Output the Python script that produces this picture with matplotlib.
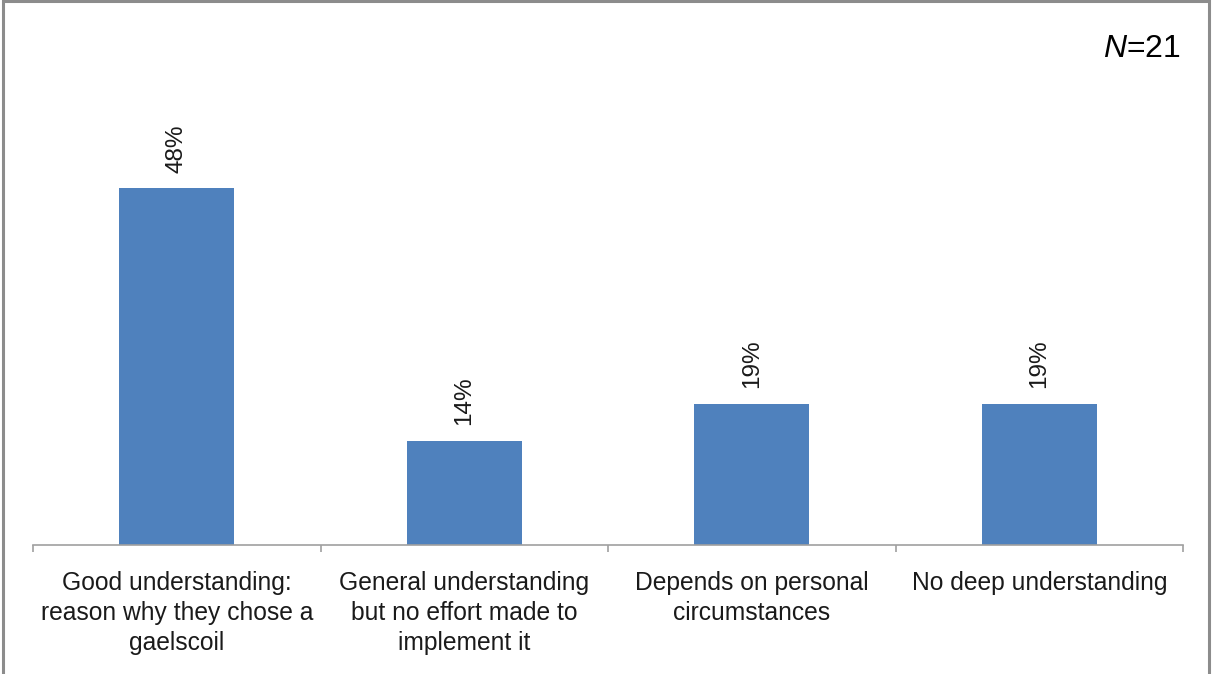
import matplotlib.pyplot as plt
from matplotlib.patches import Rectangle
import numpy as np

categories = ['Good understanding:\nreason why they chose a\ngaelscoil',
              'General understanding\nbut no effort made to\nimplement it',
              'Depends on personal\ncircumstances',
              'No deep understanding']
percentages = [48, 14, 19, 19]
n_label = 'N=21'

plt.rcParams['font.family'] = ['Liberation Sans', 'DejaVu Sans']
plt.rcParams['mathtext.fontset'] = 'custom'
plt.rcParams['mathtext.it'] = 'Liberation Sans:italic'
plt.rcParams['mathtext.rm'] = 'Liberation Sans'

fig = plt.figure(figsize=(12.12, 6.74), dpi=100)
ax = fig.add_axes([33 / 1212, 129 / 674, 1150 / 1212, 0.6617])

x = np.arange(len(categories))
bars = ax.bar(x, percentages, width=0.4, color='#4f81bd', zorder=2)
ax.set_xlim(-0.5, len(categories) - 0.5)
ax.set_ylim(0, 60)

for rect, v in zip(bars, percentages):
    ax.text(rect.get_x() + rect.get_width() / 2, rect.get_height() + 2.1, f'{v}%',
            rotation=90, ha='center', va='bottom', fontsize=17.5, color='#1a1a1a')

for s in ['top', 'right', 'left']:
    ax.spines[s].set_visible(False)
ax.spines['bottom'].set_color('#a0a0a0')
ax.spines['bottom'].set_linewidth(1.2)
ax.set_yticks([])

ax.set_xticks(x)
ax.set_xticklabels(categories, fontsize=17.7, color='#1a1a1a', linespacing=1.3)
ax.tick_params(axis='x', which='major', length=0, pad=19)
ax.set_xticks(np.arange(len(categories) + 1) - 0.5, minor=True)
ax.tick_params(axis='x', which='minor', length=5, color='#a0a0a0', width=1.2)

fig.text(1181 / 1212, 1 - 57 / 674, r'$\it{N}$=21', ha='right', va='baseline',
         fontsize=23, color='black')

fig.patches.append(Rectangle((3 / 1212, -0.1), 1206 / 1212, 1.1 - 1.5 / 674,
                             transform=fig.transFigure, fill=False,
                             edgecolor='#8c8c8c', linewidth=2.2))

fig.savefig('out.png', dpi=100)
